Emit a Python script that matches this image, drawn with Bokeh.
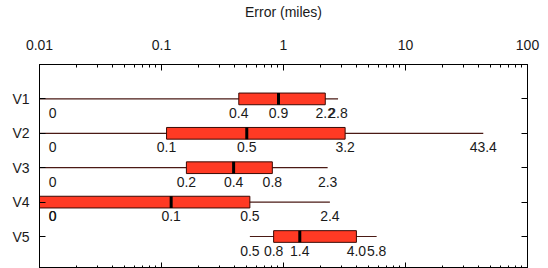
from bokeh.plotting import figure
from bokeh.models import (Range1d, FixedTicker, LogAxis, LinearAxis,
                          CustomJSTickFormatter, ColumnDataSource)
from bokeh.core.properties import value
from bokeh.embed import file_html
from bokeh.resources import INLINE

# ---- data ----
CATEGORIES = ["V1", "V2", "V3", "V4", "V5"]
MINS = [0, 0, 0, 0, 0.53]
Q1 = [0.43, 0.11, 0.16, 0, 0.83]
MEDIANS = [0.91, 0.5, 0.39, 0.12, 1.36]
Q3 = [2.2, 3.2, 0.81, 0.53, 3.96]
MAXS = [2.8, 43.4, 2.3, 2.4, 5.8]
X_TICKS = [0.01, 0.1, 1, 10, 100]
X_TITLE = "Error (miles)"

X_START, X_END = 0.01, 100
LABEL_FLOOR = 0.0128   # where a "0" label sits on the log axis
FONT = "Liberation Sans"

ypos = list(range(1, len(CATEGORIES) + 1))


def clamp(v):
    return max(v, X_START)


def fmt(v):
    return "0" if v == 0 else f"{v:.1f}"


p = figure(width=540, height=268, x_axis_type="log", x_axis_location="above",
           x_range=Range1d(X_START, X_END), y_range=Range1d(5.93, 0),
           output_backend="svg", toolbar_location=None,
           min_border_left=39, min_border_right=13, min_border_top=64,
           min_border_bottom=0)
p.xgrid.visible = False
p.ygrid.visible = False
p.outline_line_color = "black"
p.outline_line_width = 1
p.background_fill_color = "white"

minor = [m * 10.0 ** e for e in range(-2, 2) for m in range(2, 10)]
xticker = FixedTicker(ticks=X_TICKS, minor_ticks=minor)
yticker = FixedTicker(ticks=ypos)

# top axis
xa = p.xaxis[0]
xa.ticker = xticker
xa.formatter = CustomJSTickFormatter(code="return tick.toString()")
xa.axis_label = X_TITLE
xa.axis_label_text_font = FONT
xa.axis_label_text_font_style = "normal"
xa.axis_label_text_font_size = "14px"
xa.axis_label_text_color = "#1a1a1a"
xa.axis_label_standoff = 17
xa.major_label_text_font = FONT
xa.major_label_text_font_size = "14px"
xa.major_label_text_color = "#1a1a1a"
xa.major_label_standoff = 15
xa.major_tick_in = 6
xa.major_tick_out = 0
xa.minor_tick_in = 3
xa.minor_tick_out = 0
xa.axis_line_color = "black"

# left axis
ya = p.yaxis[0]
ya.ticker = yticker
ya.formatter = CustomJSTickFormatter(
    args=dict(names=CATEGORIES), code="return names[Math.round(tick) - 1]")
ya.major_label_text_font = FONT
ya.major_label_text_font_size = "14px"
ya.major_label_text_color = "#1a1a1a"
ya.major_label_standoff = 10
ya.major_tick_in = 6
ya.major_tick_out = 0
ya.minor_tick_in = 0
ya.minor_tick_out = 0

# right axis (ticks only)
ra = LinearAxis(ticker=yticker, major_label_text_font_size="1px",
                major_label_text_alpha=0,
                major_label_standoff=0, major_tick_in=6, major_tick_out=0,
                minor_tick_in=0, minor_tick_out=0)
p.add_layout(ra, "right")

# bottom axis (ticks only)
ba = LogAxis(ticker=xticker, major_label_text_font_size="1px",
             major_label_text_alpha=0,
             formatter=CustomJSTickFormatter(code="return tick.toString()"),
             major_label_standoff=0, major_tick_in=6, major_tick_out=0,
             minor_tick_in=3, minor_tick_out=0)
p.add_layout(ba, "below")

# ---- boxes ----
src = ColumnDataSource(dict(
    y=ypos,
    lo=[clamp(v) for v in MINS],
    q1=[clamp(v) for v in Q1],
    med=MEDIANS,
    q3=Q3,
    hi=MAXS,
))

BOX_H = 0.34
p.segment(x0="lo", y0="y", x1="hi", y1="y", source=src,
          line_color="#4a1a14", line_width=1.2)
p.hbar(y="y", left="q1", right="q3", height=BOX_H, source=src,
       fill_color="#ff3a24", line_color="#3a0a05", line_width=1)
p.rect(x="med", y="y", width=3, width_units="screen", height=BOX_H,
       source=src, fill_color="black", line_color=None)

# ---- value labels ----
lx, ly, lt = [], [], []
for i, y in enumerate(ypos):
    for v in (MINS[i], Q1[i], MEDIANS[i], Q3[i], MAXS[i]):
        lx.append(max(v, LABEL_FLOOR))
        ly.append(y + 0.41)
        lt.append(fmt(v))
lsrc = ColumnDataSource(dict(x=lx, y=ly, text=lt))
p.text(x="x", y="y", text="text", source=lsrc, text_font=value(FONT),
       text_font_size="14px", text_align="center", text_baseline="middle",
       text_color="#1a1a1a")

open("out.html", "w").write(file_html(p, INLINE))
